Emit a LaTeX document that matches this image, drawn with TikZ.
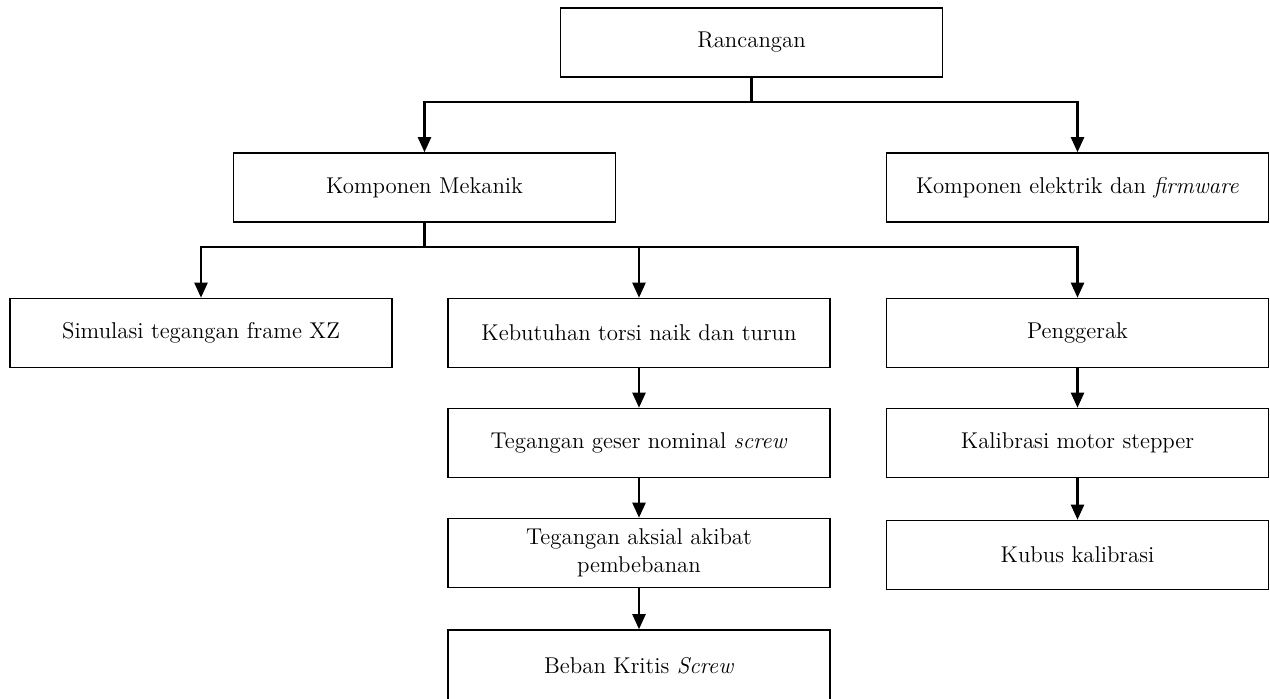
\documentclass[tikz,border=0pt]{standalone}
\usetikzlibrary{arrows.meta}
\begin{document}
\begin{tikzpicture}[x=0.02cm,y=-0.02cm,>={Triangle[width=0.26cm,length=0.3cm]},line width=1.3pt]
			\useasboundingbox (0,0) rectangle (1270,699);
			\begin{scope}[every node/.style={rectangle,draw,line width=0.9pt,minimum width=7.64cm,minimum height=1.38cm,inner sep=2pt,align=center,font=\fontsize{13}{16}\selectfont}]
			\node 	(ranc) at (751.5, 42.5)   {Rancangan};
			
			\node	(meka) at (424.5, 187.5) 	{Komponen Mekanik};
			\node	(elek) at (1077.5, 187.5) 	{Komponen elektrik dan \textit{firmware}};
			
			\node	(simu) at (201, 333) 	{Simulasi tegangan frame XZ};
			\node	(tors) at (639, 333) 	{Kebutuhan torsi naik dan turun};
			\node	(peng) at (1077.5, 333) 	{Penggerak};
			
			\node	(gese) at (639, 443) 	{Tegangan geser nominal \textit{screw}};
			\node	(kali) at (1077.5, 443) 	{Kalibrasi motor stepper};
			
			\node	(aksi) at (639, 553) 	{Tegangan aksial akibat\\pembebanan};
			\node	(kubu) at (1077.5, 555) 	{Kubus kalibrasi};
			
			\node[minimum height=1.44cm]	(beba) at (639, 666) 	{Beban Kritis \textit{Screw}};
			\end{scope}
			
			\coordinate (bar1) at (751.5, 102);
			\coordinate (bar2) at (424.5, 247);
			
			\draw (ranc) -- (bar1);
			\draw [->] (bar1) -| (meka);
			\draw [->] (bar1) -| (elek);
			
			\draw (meka) -- (bar2);
			\draw [->] (bar2) -| (simu);
			\draw [->] (bar2) -| (tors);
			\draw [->] (bar2) -| (peng);
			
			\path [->] (tors) edge (gese);
			\path [->] (gese) edge (aksi);
			\path [->] (aksi) edge (beba);
			
			\path [->] (peng) edge (kali);
			\path [->] (kali) edge (kubu);
			\end{tikzpicture}
\end{document}
